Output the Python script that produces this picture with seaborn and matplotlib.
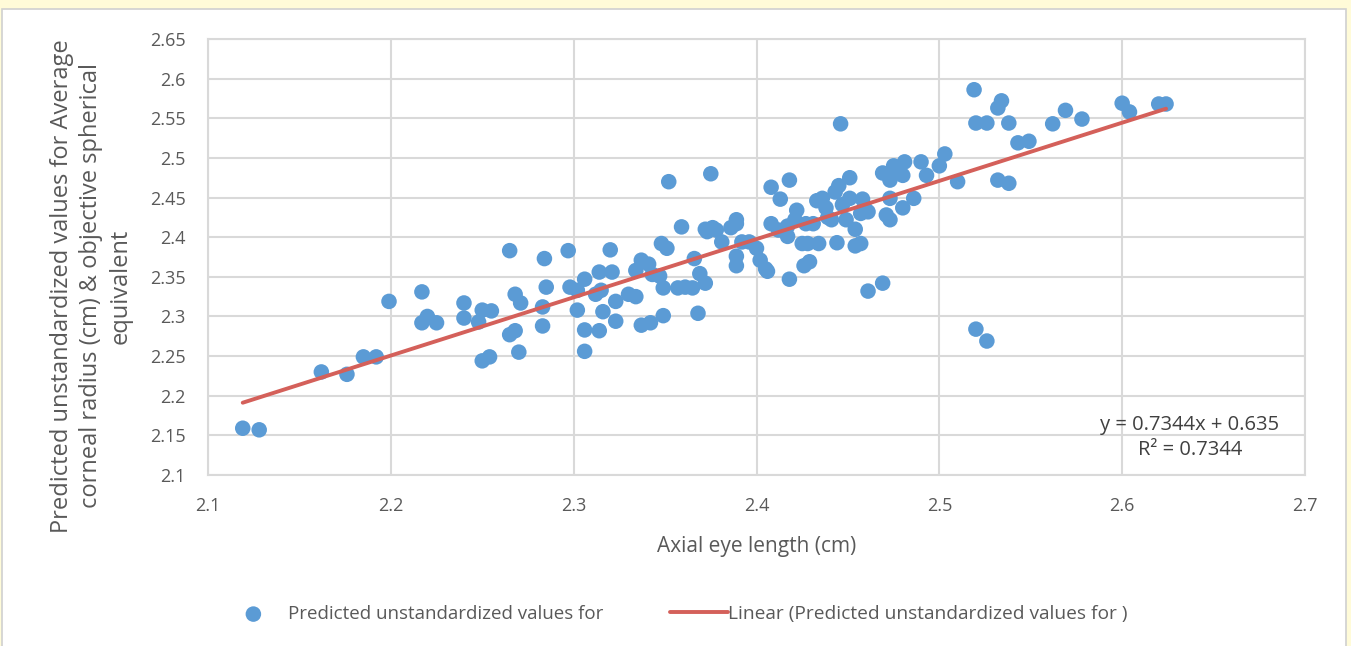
import numpy as np
import pandas as pd
import seaborn as sns
import matplotlib.pyplot as plt
from matplotlib.patches import Rectangle

# axial eye length (cm)
axial_length = [
    2.119, 2.128, 2.162, 2.176, 2.185, 2.192, 2.199, 2.217, 2.217, 2.220,
    2.225, 2.240, 2.240, 2.248, 2.250, 2.255, 2.250, 2.254, 2.265, 2.265,
    2.268, 2.268, 2.271, 2.270, 2.284, 2.285, 2.283, 2.283, 2.297, 2.298,
    2.302, 2.302, 2.306, 2.306, 2.306, 2.314, 2.312, 2.315, 2.316, 2.314,
    2.320, 2.321, 2.323, 2.323, 2.330, 2.334, 2.334, 2.337, 2.337, 2.341,
    2.342, 2.343, 2.347, 2.348, 2.351, 2.349, 2.349, 2.352, 2.357, 2.359,
    2.361, 2.365, 2.366, 2.368, 2.369, 2.372, 2.372, 2.373, 2.375, 2.376,
    2.378, 2.381, 2.386, 2.389, 2.389, 2.389, 2.389, 2.392, 2.396, 2.400,
    2.402, 2.405, 2.406, 2.408, 2.408, 2.412, 2.413, 2.417, 2.417, 2.418,
    2.418, 2.421, 2.422, 2.425, 2.427, 2.426, 2.428, 2.429, 2.431, 2.433,
    2.434, 2.436, 2.438, 2.439, 2.441, 2.443, 2.444, 2.445, 2.446, 2.447,
    2.449, 2.451, 2.451, 2.454, 2.454, 2.457, 2.457, 2.458, 2.459, 2.461,
    2.461, 2.469, 2.469, 2.471, 2.473, 2.473, 2.473, 2.475, 2.477, 2.480,
    2.481, 2.480, 2.486, 2.490, 2.493, 2.500, 2.503, 2.510, 2.519, 2.520,
    2.526, 2.520, 2.526, 2.532, 2.534, 2.532, 2.538, 2.538, 2.543, 2.549,
    2.562, 2.569, 2.578, 2.600, 2.604, 2.620, 2.624,
]

# predicted unstandardized values
predicted = [
    2.159, 2.157, 2.230, 2.227, 2.249, 2.249, 2.319, 2.331, 2.292, 2.300,
    2.292, 2.317, 2.298, 2.293, 2.308, 2.307, 2.244, 2.249, 2.383, 2.277,
    2.282, 2.328, 2.317, 2.255, 2.373, 2.337, 2.312, 2.288, 2.383, 2.337,
    2.333, 2.308, 2.347, 2.283, 2.256, 2.356, 2.328, 2.333, 2.306, 2.282,
    2.384, 2.356, 2.319, 2.294, 2.328, 2.358, 2.325, 2.371, 2.289, 2.366,
    2.292, 2.353, 2.351, 2.392, 2.386, 2.336, 2.301, 2.470, 2.336, 2.413,
    2.337, 2.336, 2.373, 2.304, 2.354, 2.342, 2.410, 2.407, 2.480, 2.412,
    2.409, 2.394, 2.412, 2.376, 2.364, 2.422, 2.417, 2.394, 2.394, 2.386,
    2.371, 2.360, 2.357, 2.463, 2.417, 2.409, 2.448, 2.401, 2.414, 2.472,
    2.347, 2.422, 2.434, 2.392, 2.417, 2.364, 2.392, 2.369, 2.417, 2.446,
    2.392, 2.449, 2.437, 2.425, 2.422, 2.457, 2.393, 2.465, 2.543, 2.441,
    2.422, 2.475, 2.449, 2.410, 2.389, 2.392, 2.430, 2.448, 2.438, 2.332,
    2.432, 2.342, 2.481, 2.428, 2.472, 2.422, 2.449, 2.490, 2.482, 2.437,
    2.495, 2.478, 2.449, 2.495, 2.478, 2.490, 2.505, 2.470, 2.586, 2.544,
    2.544, 2.284, 2.269, 2.563, 2.572, 2.472, 2.468, 2.544, 2.519, 2.521,
    2.543, 2.560, 2.549, 2.569, 2.558, 2.568, 2.568,
]

# Excel linear trendline
slope = 0.7344
intercept = 0.635
r_squared = 0.7344

x_ticks = [2.1, 2.2, 2.3, 2.4, 2.5, 2.6, 2.7]
y_ticks = [2.1, 2.15, 2.2, 2.25, 2.3, 2.35, 2.4, 2.45, 2.5, 2.55, 2.6, 2.65]

series_label = "Predicted unstandardized values for"
trend_label = "Linear (Predicted unstandardized values for )"

df = pd.DataFrame({"x": axial_length, "y": predicted})
x_range = np.array([min(axial_length), max(axial_length)])
trend = pd.DataFrame({"x": x_range, "y": slope * x_range + intercept})

sns.set_theme(style="white")
plt.rcParams["font.family"] = ["Open Sans", "DejaVu Sans"]

text_gray = "#595959"
grid_gray = "#D9D9D9"
blue = "#5B9BD5"
red = "#D4605A"
W, H = 1351, 646

fig = plt.figure(figsize=(13.51, 6.46), dpi=100)
fig.patch.set_facecolor("#FFFBD8")
fig.patches.append(Rectangle((2 / W, -0.01), 1344 / W, 1 - 9 / H + 0.01,
                             transform=fig.transFigure, facecolor="white",
                             edgecolor="#D0D0D0", linewidth=1.2, zorder=-5))

ax = fig.add_axes([208 / W, 1 - 475 / H, 1097 / W, 436 / H])
ax.set_facecolor("white")

sns.scatterplot(data=df, x="x", y="y", ax=ax, color=blue, s=125,
                edgecolor="none", label=series_label, zorder=3)
sns.lineplot(data=trend, x="x", y="y", ax=ax, color=red, linewidth=2.8,
             label=trend_label, zorder=4)

ax.set_xlim(2.1, 2.7)
ax.set_ylim(2.1, 2.65)
ax.set_xticks(x_ticks)
ax.set_yticks(y_ticks)
ax.set_xticklabels([f"{v:g}" for v in x_ticks])
ax.set_yticklabels([f"{v:g}" for v in y_ticks])
ax.grid(True, color=grid_gray, linewidth=1.5, zorder=0)
ax.set_axisbelow(True)
for side, spine in ax.spines.items():
    spine.set_color(grid_gray)
    spine.set_linewidth(1.5)
ax.tick_params(axis="both", colors=grid_gray, labelcolor=text_gray,
               labelsize=13, length=5, width=1.5, direction="out")
ax.tick_params(axis="y", pad=11)
ax.tick_params(axis="x", pad=11)

ax.set_xlabel("Axial eye length (cm)", fontsize=15, color=text_gray, labelpad=15)
ax.set_ylabel("")
fig.text(91 / W, 1 - 286 / H,
         "Predicted unstandardized values for Average\n"
         "corneal radius (cm) & objective spherical\nequivalent",
         rotation=90, ha="center", va="center", fontsize=17, color=text_gray,
         multialignment="center", linespacing=1.3)

ax.text(2.637, 2.147, f"y = {slope}x + {intercept}\nR² = {r_squared}",
        ha="center", va="center", multialignment="center", fontsize=14.5,
        color="#404040", linespacing=1.35, zorder=5)

handles, labels = ax.get_legend_handles_labels()
ax.legend_.remove()
leg_y = 1 - 614 / H
fig.legend(handles[:1], labels[:1], loc="center left",
           bbox_to_anchor=(244 / W, leg_y), frameon=False, fontsize=13.5,
           labelcolor=text_gray, handlelength=1.0, handletextpad=1.35,
           borderpad=0, borderaxespad=0)
fig.legend(handles[1:], labels[1:], loc="center left",
           bbox_to_anchor=(670 / W, leg_y), frameon=False, fontsize=13.8,
           labelcolor=text_gray, handlelength=3.0, handletextpad=0.05,
           borderpad=0, borderaxespad=0)

fig.savefig("out.png", dpi=100, facecolor=fig.get_facecolor())
